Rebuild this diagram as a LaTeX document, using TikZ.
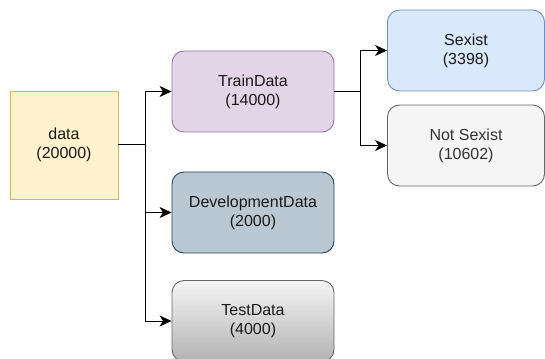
\documentclass[tikz,border=0pt]{standalone}
\usepackage{fontspec}
\setmainfont{Liberation Sans}
\usetikzlibrary{arrows.meta,shadings}
\definecolor{dataF}{HTML}{FFF2CC}\definecolor{dataS}{HTML}{D6B656}
\definecolor{trF}{HTML}{E1D5E7}\definecolor{trS}{HTML}{9673A6}
\definecolor{devF}{HTML}{BAC8D3}\definecolor{devS}{HTML}{23445D}
\definecolor{gT}{HTML}{F5F5F5}\definecolor{gB}{HTML}{B3B3B3}\definecolor{gS}{HTML}{666666}
\definecolor{sxF}{HTML}{DAE8FC}\definecolor{sxS}{HTML}{6C8EBF}
\definecolor{txt}{HTML}{1A1A1A}\definecolor{gtxt}{HTML}{333333}
\tikzset{
  box/.style={draw, line width=0.9pt, align=center, text=txt, inner sep=0pt,
    font=\fontsize{16}{19}\selectfont},
  rbox/.style={box, rounded corners=12pt, minimum width=162pt, minimum height=81pt},
  sbox/.style={box, rounded corners=12pt, minimum width=157pt, minimum height=81pt},
  conn/.style={draw, line width=1pt, -{Stealth[length=12pt,width=11pt,inset=3.5pt]}},
}
\begin{document}
\begin{tikzpicture}[x=1pt,y=-1pt]
\useasboundingbox (0,0) rectangle (545,358);
\begin{scope}
\clip (0,0) rectangle (545,358);
\node[box, fill=dataF, draw=dataS, minimum width=108pt, minimum height=108pt] (data) at (64,145) {data\\(20000)};
\node[rbox, fill=trF, draw=trS] (train) at (253,91.5) {TrainData\\(14000)};
\node[rbox, fill=devF, draw=devS] (dev) at (253,212.5) {DevelopmentData\\(2000)};
\node[rbox, top color=gT, bottom color=gB, draw=gS] (test) at (253,321) {TestData\\(4000)};
\node[sbox, fill=sxF, draw=sxS] (sexist) at (466,50.5) {Sexist\\(3398)};
\node[sbox, fill=gT, draw=gS, text=gtxt] (notsexist) at (466,145.5) {Not Sexist\\(10602)};
\coordinate (b1) at (145,145);
\coordinate (b2) at (360,91.5);
\draw[line width=1pt] (data.east) -- (b1);
\draw[conn] (b1) |- (train.west);
\draw[conn] (b1) |- (dev.west);
\draw[conn] (b1) |- (test.west);
\draw[line width=1pt] (train.east) -- (b2);
\draw[conn] (b2) |- (sexist.west);
\draw[conn] (b2) |- (notsexist.west);
\end{scope}
\end{tikzpicture}
\end{document}
